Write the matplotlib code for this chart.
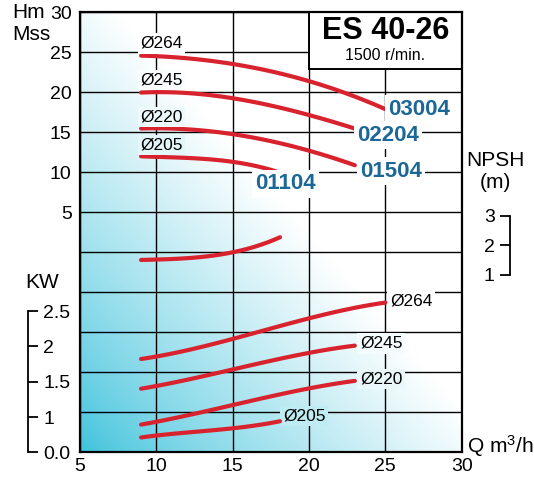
import numpy as np
import matplotlib
matplotlib.use('Agg')
import matplotlib.pyplot as plt
from matplotlib.patches import Rectangle

plt.rcParams['font.family'] = ['Liberation Sans', 'DejaVu Sans']
plt.rcParams['mathtext.default'] = 'regular'

# curve data
q_head = [9, 12, 15, 17.5, 20, 22.5, 25]
h264 = [24.6, 24.2, 23.6, 22.6, 21.4, 19.8, 17.9]
q_h245 = [9, 12, 15, 17.5, 20, 23]
h245 = [20.0, 19.8, 19.35, 18.4, 17.05, 15.5]
q_h220 = [9, 12, 15, 17.5, 20, 23]
h220 = [15.5, 15.3, 14.85, 13.9, 12.65, 10.9]
q_h205 = [9, 12, 15, 16.5, 18.1]
h205 = [12.0, 11.8, 11.3, 10.8, 9.95]

q_npsh = [9, 12, 15, 18.1]
npsh = [1.51, 1.57, 1.77, 2.28]

q_p264 = [9, 12, 15, 20, 25]
p264 = [1.82, 1.95, 2.10, 2.40, 2.62]
q_p245 = [9, 12, 15, 20, 23]
p245 = [1.40, 1.53, 1.67, 1.91, 2.01]
q_p220 = [9, 12, 15, 20, 23]
p220 = [0.89, 1.03, 1.16, 1.41, 1.51]
q_p205 = [9, 12, 15, 18.1]
p205 = [0.71, 0.78, 0.84, 0.94]

x_ticks = [5, 10, 15, 20, 25, 30]
head_ticks = [5, 10, 15, 20, 25, 30]
kw_ticks = [0.5, 1, 1.5, 2, 2.5]
kw_labels = ['0.0', '1', '1.5', '2', '2.5']
npsh_ticks = [1, 2, 3]

RED = '#d8232e'
BLUE = '#1b6896'
CYAN = np.array([0.24, 0.76, 0.86])

def smooth(x, y, n=80):
    x = np.asarray(x, float); y = np.asarray(y, float)
    c = np.polyfit(x, y, min(3, len(x) - 1))
    xs = np.linspace(x[0], x[-1], n)
    return xs, np.polyval(c, xs)

def bg_at(xf, yf):
    u = (xf + yf) / 2
    s = np.clip(u / 0.55, 0, 1) ** 0.8
    return CYAN + (1 - CYAN) * s

fig = plt.figure(figsize=(5.34, 4.84), dpi=100)
ax = fig.add_axes([80/534, 31.7/484, 381.7/534, 440/484])
ax.set_xlim(5, 30)
ax.set_ylim(-25, 30)

# background gradient
gx, gy = np.meshgrid(np.linspace(0, 1, 200), np.linspace(0, 1, 200))
img = bg_at(gx[..., None], gy[..., None])
ax.imshow(img, extent=(5, 30, -25, 30), origin='lower', aspect='auto', zorder=0)

ax.set_xticks(x_ticks)
ax.set_yticks(list(range(-20, 31, 5)))
ax.set_yticklabels(['' if v < 5 else str(v) for v in range(-20, 31, 5)])
ax.set_axisbelow(True)
ax.grid(True, color='black', lw=1.0)
ax.tick_params(length=0, labelsize=14)
ax.tick_params(axis='y', pad=6)
ax.tick_params(axis='x', pad=4)
for s in ax.spines.values():
    s.set_linewidth(1.6)
    s.set_zorder(6)

# title box
ax.add_patch(Rectangle((20, 22.9), 10, 7.1, facecolor='white', edgecolor='black', lw=1.4, zorder=3))
ax.text(25, 27.7, 'ES 40-26', ha='center', va='center', fontsize=22, fontweight='bold', zorder=5)
ax.text(25, 24.65, '1500 r/min.', ha='center', va='center', fontsize=11.5, zorder=5)

# head curves
for qq, hh in [(q_head, h264), (q_h245, h245), (q_h220, h220), (q_h205, h205)]:
    xs, ys = smooth(qq, hh)
    ax.plot(xs, ys, color=RED, lw=3, solid_capstyle='round', zorder=4)

def label(x, y, s, w=1.3, **kw):
    xf = (x + w - 5) / 25; yf = (y + 25) / 55
    fc = bg_at(xf, yf)
    ax.text(x, y, s, va='center', zorder=5,
            bbox=dict(boxstyle='square,pad=0.15', fc=fc, ec='none'), **kw)

for y, s in [(26.1, 'Ø264'), (21.5, 'Ø245'), (16.9, 'Ø220'), (13.4, 'Ø205')]:
    label(8.95, y, s, fontsize=12.5)

for x, y, s in [(25.2, 17.9, '03004'), (23.14, 14.66, '02204'),
                (23.34, 10.16, '01504'), (16.46, 8.54, '01104')]:
    label(x, y, s, w=1.9, fontsize=16, fontweight='bold', color=BLUE)

for x, y, s in [(25.3, -6.15, 'Ø264'), (23.34, -11.4, 'Ø245'),
                (23.34, -15.84, 'Ø220'), (18.3, -20.5, 'Ø205')]:
    label(x, y, s, fontsize=12.5)

# power axis
ax_kw = ax.twinx()
ax_kw.set_ylim(0.5, 0.5 + 440 / 70.6)
for name in ['left', 'top', 'bottom']:
    ax_kw.spines[name].set_visible(False)
ax_kw.spines['right'].set_position(('axes', (28 - 80) / 381.7))
ax_kw.spines['right'].set_bounds(0.5, 2.5)
ax_kw.spines['right'].set_linewidth(1.3)
ax_kw.set_yticks(kw_ticks)
ax_kw.set_yticklabels(kw_labels)
ax_kw.tick_params(axis='y', direction='out', length=7, width=1.3, pad=4, labelsize=14)
for qq, pp in [(q_p264, p264), (q_p245, p245), (q_p220, p220), (q_p205, p205)]:
    xs, ys = smooth(qq, pp)
    ax_kw.plot(xs, ys, color=RED, lw=3, solid_capstyle='round', zorder=4)

# npsh axis
ax_np = ax.twinx()
ax_np.set_ylim(1 - (452.3 - 275) / 29.5, 1 - (452.3 - 275) / 29.5 + 440 / 29.5)
for name in ['right', 'top', 'bottom']:
    ax_np.spines[name].set_visible(False)
ax_np.yaxis.set_ticks_position('left')
ax_np.yaxis.set_label_position('left')
ax_np.spines['left'].set_visible(True)
ax_np.spines['left'].set_position(('axes', (510 - 80) / 381.7))
ax_np.spines['left'].set_bounds(1, 3)
ax_np.spines['left'].set_linewidth(1.3)
ax_np.set_yticks(npsh_ticks)
ax_np.tick_params(axis='y', direction='out', length=7, width=1.3, pad=4, labelsize=14)
xs, ys = smooth(q_npsh, npsh)
ax_np.plot(xs, ys, color=RED, lw=3, solid_capstyle='round', zorder=4)

# axis titles
fig.text(12/534, 1 - 12/484, 'Hm', ha='left', va='center', fontsize=15)
fig.text(12/534, 1 - 34/484, 'Mss', ha='left', va='center', fontsize=15)
fig.text(42/534, 1 - 283/484, 'KW', ha='center', va='center', fontsize=15)
fig.text(495/534, 1 - 161/484, 'NPSH', ha='center', va='center', fontsize=15)
fig.text(495/534, 1 - 183/484, '(m)', ha='center', va='center', fontsize=15)
fig.text(533/534, 1 - 446/484, 'Q m$^3$/h', ha='right', va='center', fontsize=15)

fig.savefig('out.png', dpi=100)
